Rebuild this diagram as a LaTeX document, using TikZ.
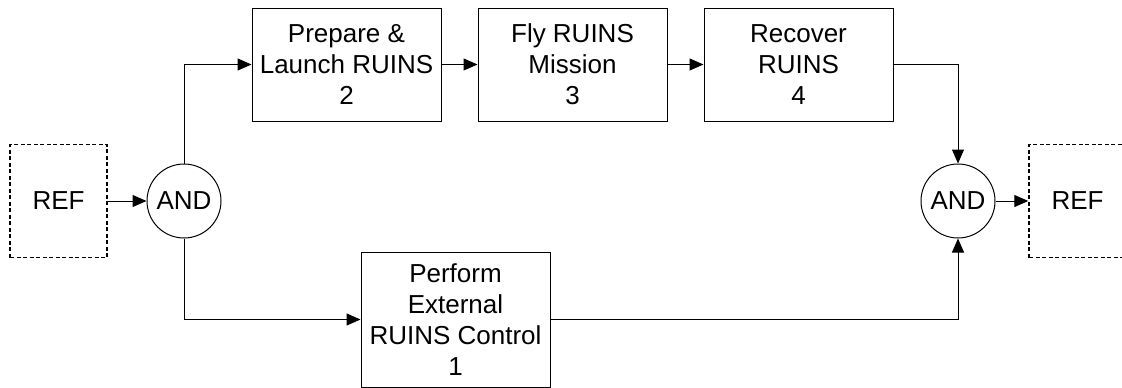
\documentclass[tikz,border=0pt]{standalone}
\usepackage{fontspec}
\setmainfont{Liberation Sans}
\usetikzlibrary{arrows.meta}
\begin{document}
\begin{tikzpicture}[x=1pt,y=-1pt,
  every node/.style={font=\fontsize{26}{31}\selectfont},
  func/.style={draw, line width=1pt, align=center, inner sep=0pt,
    minimum width=189pt, minimum height=113pt},
  refbox/.style={draw, dash pattern=on 4pt off 2.5pt, line width=1.4pt,
    inner sep=0pt, minimum width=97pt, minimum height=113pt},
  gate/.style={draw, circle, line width=1pt, inner sep=0pt, minimum size=74pt},
  flow/.style={line width=1pt, -{Triangle[length=14pt,width=12pt]}}]
\useasboundingbox (0,0) rectangle (1122,388);

\node[refbox] (refL) at (58.5,201) {REF};
\node[gate] (andL) at (184,201) {AND};
\node[gate] (andR) at (958,201) {AND};
\node[refbox] (refR) at (1077.5,201) {REF};

\node[func] (f2) at (346.5,64.5) {Prepare \&\\Launch RUINS\\2};
\node[func] (f3) at (572.5,64.5) {Fly RUINS\\Mission\\3};
\node[func] (f4) at (798.5,64.5) {Recover\\RUINS\\4};
\node[func, minimum height=135pt] (f1) at (455.5,319.5) {Perform\\External\\RUINS Control\\1};

\draw[flow] (refL) -- (andL);
\draw[flow] (andL.north) |- (f2.west);
\draw[flow] (andL.south) |- (f1.west);
\draw[flow] (f2) -- (f3);
\draw[flow] (f3) -- (f4);
\draw[flow] (f4.east) -| (andR.north);
\draw[flow] (f1.east) -| (andR.south);
\draw[flow] (andR) -- (refR);
\end{tikzpicture}
\end{document}
